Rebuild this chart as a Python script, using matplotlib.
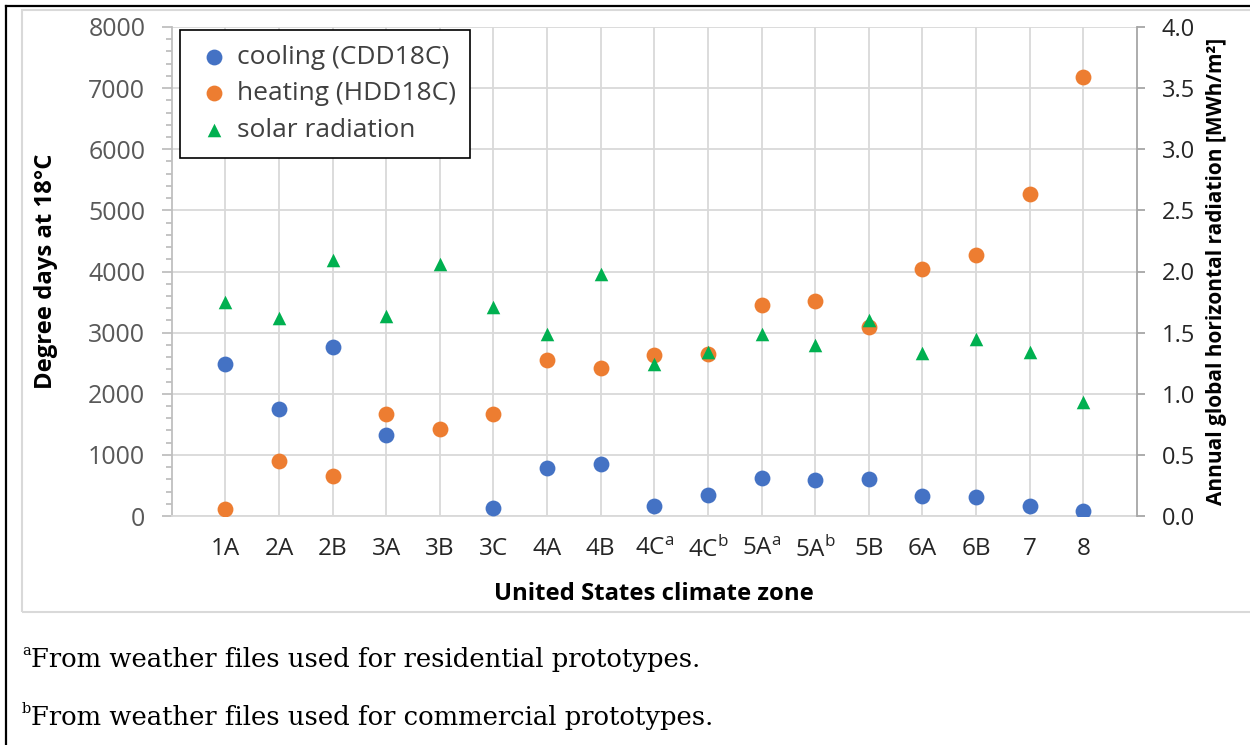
import numpy as np
import matplotlib
matplotlib.use("Agg")
import matplotlib.pyplot as plt
from matplotlib.lines import Line2D
from matplotlib.patches import Rectangle
from matplotlib.ticker import MultipleLocator, FormatStrFormatter

plt.rcParams['font.family'] = ['Open Sans', 'DejaVu Sans']
plt.rcParams['mathtext.fontset'] = 'custom'
plt.rcParams['mathtext.rm'] = 'Open Sans'

zones = ['1A', '2A', '2B', '3A', '3B', '3C', '4A', '4B',
         '4C$^\\mathrm{a}$', '4C$^\\mathrm{b}$', '5A$^\\mathrm{a}$', '5A$^\\mathrm{b}$',
         '5B', '6A', '6B', '7', '8']
# 3B cooling point is not visible in the source chart
cooling = [2490, 1745, 2765, 1320, np.nan, 125, 790, 845, 160, 340, 625, 590, 600, 330, 315, 165, 85]
heating = [110, 895, 650, 1665, 1420, 1665, 2550, 2415, 2630, 2645, 3455, 3525, 3085, 4035, 4275, 5270, 7190]
solar = [1.75, 1.62, 2.09, 1.64, 2.06, 1.71, 1.49, 1.98, 1.24, 1.34, 1.49, 1.40, 1.60, 1.33, 1.45, 1.34, 0.93]

W, H = 1250, 745
fig = plt.figure(figsize=(12.5, 7.45), dpi=100)

# frames: outer black border and grey chart-area border
fig.add_artist(Line2D([6 / W, 6 / W], [0, 1 - 6 / H], color='black', lw=1.6, transform=fig.transFigure))
fig.add_artist(Line2D([6 / W, 1], [1 - 6 / H, 1 - 6 / H], color='black', lw=1.6, transform=fig.transFigure))
fig.add_artist(Rectangle((22 / W, 1 - 612 / H), 1.0, (612 - 10) / H, fill=False,
                         edgecolor='#d9d9d9', lw=1.5, transform=fig.transFigure))

left, right, bottom, top = 171.7, 1137, 516, 27
ax = fig.add_axes([left / W, 1 - bottom / H, (right - left) / W, (bottom - top) / H])
x = np.arange(1, len(zones) + 1)

ax.set_xlim(0, 18)
ax.set_ylim(0, 8000)
ax.set_xticks(x)
ax.set_xticklabels(zones)
ax.yaxis.set_major_locator(MultipleLocator(1000))
ax.yaxis.set_minor_locator(MultipleLocator(200))
ax.grid(True, which='major', color='#d9d9d9', lw=1.3)
ax.set_axisbelow(True)

for s in ['top', 'right']:
    ax.spines[s].set_visible(False)
ax.spines['left'].set_color('#bfbfbf')
ax.spines['left'].set_linewidth(1.3)
ax.spines['bottom'].set_color('#d9d9d9')
ax.spines['bottom'].set_linewidth(1.3)

ax.tick_params(axis='x', length=0, pad=15, labelsize=17.5, labelcolor='#262626')
ax.tick_params(axis='y', which='major', length=7, width=1.3, color='#bfbfbf',
               pad=12, labelsize=18, labelcolor='#595959')
ax.tick_params(axis='y', which='minor', length=4.5, width=1.3, color='#bfbfbf')

ax.scatter(x, cooling, s=130, color='#4472C4', label='cooling (CDD18C)', zorder=3, linewidths=0)
ax.scatter(x, heating, s=130, color='#ED7D31', label='heating (HDD18C)', zorder=3, linewidths=0)

ax2 = ax.twinx()
ax2.set_ylim(0, 4)
ax2.yaxis.set_major_locator(MultipleLocator(0.5))
ax2.yaxis.set_major_formatter(FormatStrFormatter('%.1f'))
for s in ['top', 'left', 'bottom']:
    ax2.spines[s].set_visible(False)
ax2.spines['right'].set_color('#a6a6a6')
ax2.spines['right'].set_linewidth(1.3)
ax2.tick_params(axis='y', length=6, width=1.3, color='#a6a6a6', pad=12,
                labelsize=17, labelcolor='#262626')
ax2.scatter(x, solar, s=95, marker='^', color='#00B050', label='solar radiation', zorder=3, linewidths=0)

ax.set_ylabel('Degree days at 18°C', fontsize=17.2, fontweight='bold', color='black')
ax.yaxis.set_label_coords((58 - left) / (right - left), 0.5)
ax.set_xlabel('United States climate zone', fontsize=17.2, fontweight='bold', color='black')
ax.xaxis.set_label_coords(0.5, -(582 - bottom) / (bottom - top))
ax2.set_ylabel('Annual global horizontal radiation [MWh/m²]', fontsize=15,
               fontweight='bold', color='black')
ax2.yaxis.set_label_coords((1206 - left) / (right - left), 0.5)

h1, l1 = ax.get_legend_handles_labels()
h2, l2 = ax2.get_legend_handles_labels()
leg = ax2.legend(h1 + h2, l1 + l2, loc='upper left', bbox_to_anchor=(180 / W, 1 - 30 / H),
                 bbox_transform=fig.transFigure, fontsize=19, frameon=True, fancybox=False,
                 edgecolor='black', framealpha=1, borderpad=0.55, labelspacing=0.45,
                 handletextpad=0.1, handlelength=1.5, borderaxespad=0)
leg.get_frame().set_linewidth(1.2)
for t in leg.get_texts():
    t.set_color('#404040')

# footnotes
serif = 'DejaVu Serif'
fig.text(22 / W, 1 - 651 / H, 'a', fontsize=10.5, family=serif, va='center', ha='left')
fig.text(31 / W, 1 - 659 / H, 'From weather files used for residential prototypes.',
         fontsize=18.6, family=serif, va='center', ha='left')
fig.text(22 / W, 1 - 709 / H, 'b', fontsize=10.5, family=serif, va='center', ha='left')
fig.text(31 / W, 1 - 717 / H, 'From weather files used for commercial prototypes.',
         fontsize=18.6, family=serif, va='center', ha='left')

fig.savefig('out.png', dpi=100)
